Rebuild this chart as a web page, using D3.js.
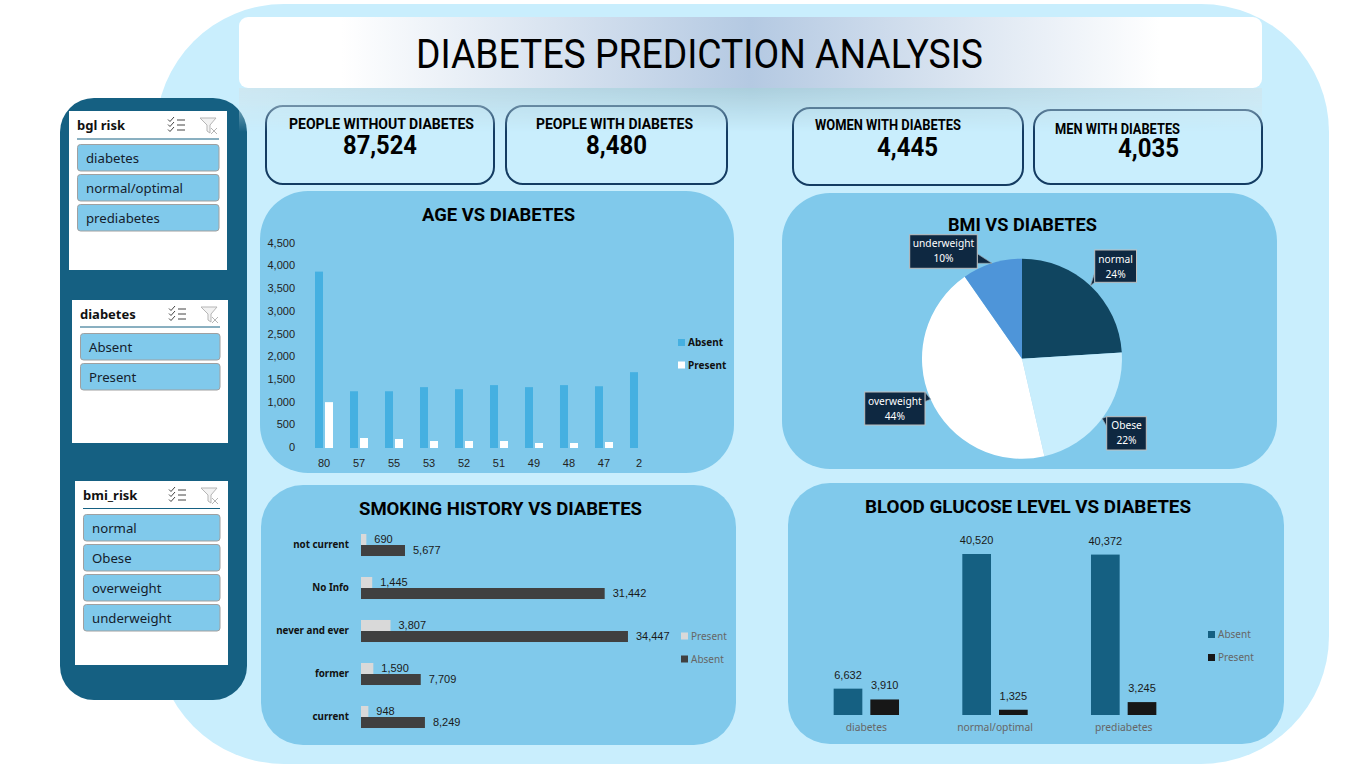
<!DOCTYPE html>
<html>
<head>
<meta charset="utf-8">
<title>Diabetes Prediction Analysis</title>
<script src="https://cdn.jsdelivr.net/npm/d3@7"></script>
<style>
	body { margin: 0; background: #ffffff; }
	svg { display: block; }
	text { font-family: "Noto Sans", sans-serif; }
	.heading { font-family: Roboto, sans-serif; font-weight: 700; fill: #000000; }
	.title { font-family: Roboto, sans-serif; fill: #000000; }
	.tick text, .num { font-family: "Liberation Sans", sans-serif; }
</style>
</head>
<body>
<div id="dash"></div>
<script>
// Chart values
const AGE_CATS = ["80", "57", "55", "53", "52", "51", "49", "48", "47", "2"];
const AGE_ABSENT = [3885, 1250, 1250, 1340, 1295, 1385, 1340, 1385, 1360, 1670];
const AGE_PRESENT = [1010, 220, 198, 154, 154, 154, 110, 110, 132, 0];
const AGE_TICKS = [0, 500, 1000, 1500, 2000, 2500, 3000, 3500, 4000, 4500];

const BMI_CATS = ["normal", "Obese", "overweight", "underweight"];
const BMI_SHARE = [24, 22.4, 43.9, 9.7];

const SMOKE_CATS = ["not current", "No Info", "never and ever", "former", "current"];
const SMOKE_PRESENT = [690, 1445, 3807, 1590, 948];
const SMOKE_ABSENT = [5677, 31442, 34447, 7709, 8249];

const BGL_CATS = ["diabetes", "normal/optimal", "prediabetes"];
const BGL_ABSENT = [6632, 40520, 40372];
const BGL_PRESENT = [3910, 1325, 3245];

const KPI_LABELS = ["PEOPLE WITHOUT DIABETES", "PEOPLE WITH DIABETES", "WOMEN WITH DIABETES", "MEN WITH DIABETES"];
const KPI_VALUES = [87524, 8480, 4445, 4035];

const SLICER_TITLES = ["bgl risk", "diabetes", "bmi_risk"];
const SLICER_ITEMS = [
	["diabetes", "normal/optimal", "prediabetes"],
	["Absent", "Present"],
	["normal", "Obese", "overweight", "underweight"]
];

// Frame constants
const FRAME_WIDTH = 1357;
const FRAME_HEIGHT = 771;
const LIGHT = "#C9EEFD";
const PANEL = "#80C9EB";
const TEAL = "#156082";
const NAVY = "#0E2841";
const COMMA = d3.format(",");

const FRAME = d3.select("#dash")
				.append("svg")
					.attr("width", FRAME_WIDTH)
					.attr("height", FRAME_HEIGHT);

const DEFS = FRAME.append("defs");

// white to blue to white gradient on the title bar
const TITLE_GRAD = DEFS.append("linearGradient").attr("id", "titleGrad");
TITLE_GRAD.append("stop").attr("offset", "0%").attr("stop-color", "#ffffff");
TITLE_GRAD.append("stop").attr("offset", "10%").attr("stop-color", "#ffffff");
TITLE_GRAD.append("stop").attr("offset", "50%").attr("stop-color", "#B4C9E2");
TITLE_GRAD.append("stop").attr("offset", "90%").attr("stop-color", "#ffffff");
TITLE_GRAD.append("stop").attr("offset", "100%").attr("stop-color", "#ffffff");

// reflection under the title bar
const REFLECT_GRAD = DEFS.append("linearGradient").attr("id", "reflectGrad");
REFLECT_GRAD.append("stop").attr("offset", "0%").attr("stop-color", "#CFE6EF");
REFLECT_GRAD.append("stop").attr("offset", "50%").attr("stop-color", "#A6C8D6");
REFLECT_GRAD.append("stop").attr("offset", "100%").attr("stop-color", "#CFE6EF");

const REFLECT_FADE = DEFS.append("linearGradient").attr("id", "reflectFade")
						.attr("x1", 0).attr("y1", 0).attr("x2", 0).attr("y2", 1);
REFLECT_FADE.append("stop").attr("offset", "0%").attr("stop-color", "#fff").attr("stop-opacity", 0.85);
REFLECT_FADE.append("stop").attr("offset", "100%").attr("stop-color", "#fff").attr("stop-opacity", 0);
DEFS.append("mask").attr("id", "reflectMask")
	.attr("maskContentUnits", "objectBoundingBox")
	.append("rect").attr("width", 1).attr("height", 1).attr("fill", "url(#reflectFade)");

function box(parent, x0, y0, x1, y1, r) {
	return parent.append("rect")
		.attr("x", x0).attr("y", y0)
		.attr("width", x1 - x0).attr("height", y1 - y0)
		.attr("rx", r).attr("ry", r);
}

// text squeezed to the width it has in the reference
function fitText(parent, str, x0, x1, yMid, size, cls) {
	return parent.append("text")
		.attr("class", cls)
		.attr("x", x0)
		.attr("y", yMid)
		.attr("dy", "0.36em")
		.attr("font-size", size)
		.attr("textLength", x1 - x0)
		.attr("lengthAdjust", "spacingAndGlyphs")
		.text(str);
}

// Backgrounds
box(FRAME, 156, 4, 1329, 764, 128).attr("fill", LIGHT);
box(FRAME, 60, 98, 247, 700, 34).attr("fill", TEAL);
box(FRAME, 239, 17, 1262, 88, 9).attr("fill", "url(#titleGrad)");

box(FRAME, 260, 191, 734, 473, 48).attr("fill", PANEL);
box(FRAME, 782, 193, 1277, 469, 48).attr("fill", PANEL);
box(FRAME, 261, 485, 736, 745, 42).attr("fill", PANEL);
box(FRAME, 788, 483, 1284, 744, 42).attr("fill", PANEL);

// KPI cards
const KPI_BOX = [[266, 106, 494, 184], [506, 106, 727, 184], [793, 108, 1023, 185], [1034, 110, 1262, 184]];
const KPI_LABEL_POS = [[289, 474, 123.5], [536, 693, 123.5], [815, 961, 124.5], [1055, 1180, 129]];
const KPI_VALUE_POS = [[343, 417, 145], [586, 647, 145], [877, 938, 146.5], [1118, 1179, 147.5]];

KPI_BOX.forEach(b => {
	box(FRAME, b[0], b[1], b[2], b[3], 17)
		.attr("fill", LIGHT)
		.attr("stroke", "#143C62")
		.attr("stroke-width", 2);
});

box(FRAME, 239, 88, 1262, 132, 0)
	.attr("fill", "url(#reflectGrad)")
	.attr("mask", "url(#reflectMask)");

fitText(FRAME, "DIABETES PREDICTION ANALYSIS", 416, 983, 53.5, 41, "title");

KPI_LABELS.forEach((d, i) => {
	const P = KPI_LABEL_POS[i];
	fitText(FRAME, d, P[0], P[1], P[2], 14.5, "heading");
	const V = KPI_VALUE_POS[i];
	fitText(FRAME, COMMA(KPI_VALUES[i]), V[0], V[1], V[2], 25, "heading");
});

// Slicers
const SLICER_BOX = [[69, 111, 227, 270], [72, 300, 228, 443], [75, 481, 228, 665]];
const SLICER_LEFT = [77, 80, 83];
const SLICER_RIGHT = [219, 220, 220];
const SLICER_HEAD = [125, 314, 495];
const SLICER_RULE = [139, 327, 508.5];
const BTN_TOP = [144.5, 333.5, 514.5];
const BTN_H = 26.5;
const BTN_STEP = 30;

function drawSlicer(i) {
	const B = SLICER_BOX[i];
	const G = FRAME.append("g");
	box(G, B[0], B[1], B[2], B[3], 0).attr("fill", "#ffffff");

	const L = SLICER_LEFT[i], R = SLICER_RIGHT[i], H = SLICER_HEAD[i];

	G.append("text")
		.attr("x", L).attr("y", H).attr("dy", "0.36em")
		.attr("font-size", 13).attr("font-weight", 700).attr("fill", "#111111")
		.text(SLICER_TITLES[i]);

	G.append("line")
		.attr("x1", L).attr("x2", R)
		.attr("y1", SLICER_RULE[i]).attr("y2", SLICER_RULE[i])
		.attr("stroke", TEAL);

	// multi select icon
	const ICON = G.append("g").attr("transform", "translate(" + (R - 51) + "," + (H - 7) + ")")
					.attr("fill", "none").attr("stroke", "#444444");
	[0, 5, 10].forEach(dy => {
		ICON.append("path").attr("d", "M0 " + (dy + 1.5) + "l2 2l4 -4.5");
		ICON.append("line").attr("x1", 9).attr("x2", 17).attr("y1", dy + 2).attr("y2", dy + 2);
	});

	// clear filter icon
	const FUNNEL = G.append("g").attr("transform", "translate(" + (R - 19) + "," + (H - 7) + ")")
					.attr("fill", "none").attr("stroke", "#B5B5B5");
	FUNNEL.append("path").attr("d", "M0 0H16L10 7V15L7 13V7Z").attr("fill", "#F2F2F2");
	FUNNEL.append("path").attr("d", "M11 10l6 6M17 10l-6 6");

	SLICER_ITEMS[i].forEach((d, k) => {
		const TOP = BTN_TOP[i] + k * BTN_STEP;
		box(G, L + 0.5, TOP, R, TOP + BTN_H, 3)
			.attr("fill", PANEL).attr("stroke", "#A0A0A0");
		G.append("text")
			.attr("x", L + 9).attr("y", TOP + BTN_H / 2).attr("dy", "0.36em")
			.attr("font-size", 13.2).attr("fill", "#14202c")
			.text(d);
	});
}
SLICER_TITLES.forEach((d, i) => drawSlicer(i));

function legend(rows, x, size, textColor, bold) {
	rows.forEach(r => {
		FRAME.append("rect").attr("x", x).attr("y", r.y - size / 2)
			.attr("width", size).attr("height", size).attr("fill", r.color);
		FRAME.append("text").attr("x", x + size + 3).attr("y", r.y).attr("dy", "0.36em")
			.attr("font-size", 10).attr("font-weight", bold ? 700 : 400)
			.attr("fill", textColor).text(r.name);
	});
}

// Age chart
fitText(FRAME, "AGE VS DIABETES", 422, 575, 214, 18.5, "heading");

const X_AGE = d3.scaleBand().domain(AGE_CATS).range([306.5, 656.5]).paddingInner(0.4857).paddingOuter(0.243);
const SUB_AGE = d3.scaleBand().domain(["Absent", "Present"]).range([0, X_AGE.bandwidth()]).paddingInner(0.2);
const Y_AGE = d3.scaleLinear().domain([0, 4500]).range([448, 243.7]);

[["Absent", AGE_ABSENT, "#45B0E1"], ["Present", AGE_PRESENT, "#FFFFFF"]].forEach(s => {
	FRAME.append("g").selectAll("rect")
		.data(s[1])
		.enter().append("rect")
			.attr("x", (d, i) => X_AGE(AGE_CATS[i]) + SUB_AGE(s[0]))
			.attr("y", d => Y_AGE(d))
			.attr("width", SUB_AGE.bandwidth())
			.attr("height", d => Y_AGE(0) - Y_AGE(d))
			.attr("fill", s[2]);
});

const AXIS_LEFT_AGE = FRAME.append("g")
	.attr("transform", "translate(298,-1)")
	.call(d3.axisLeft(Y_AGE).tickValues(AGE_TICKS).tickFormat(COMMA).tickSize(0).tickPadding(3));
const AXIS_BOTTOM_AGE = FRAME.append("g")
	.attr("transform", "translate(0,448)")
	.call(d3.axisBottom(X_AGE).tickSize(0).tickPadding(11));

legend([{name: "Absent", y: 342.5, color: "#45B0E1"}, {name: "Present", y: 365, color: "#FFFFFF"}], 678, 7, "#111111", true);

// Pie chart
fitText(FRAME, "BMI VS DIABETES", 948, 1097, 224, 18.5, "heading");

const PIE_R = 100;
const PIE_COLOR = d3.scaleOrdinal().domain(BMI_CATS).range(["#104560", LIGHT, "#FFFFFF", "#4E95D9"]);
const PIE = d3.pie().sort(null).value(d => d)(BMI_SHARE);
const ARC = d3.arc().innerRadius(0).outerRadius(PIE_R);
const PIE_G = FRAME.append("g").attr("transform", "translate(1022,358.7)");

PIE_G.selectAll("path")
	.data(PIE)
	.enter().append("path")
		.attr("d", ARC)
		.attr("fill", (d, i) => PIE_COLOR(BMI_CATS[i]));

// callouts, the pointer ends on the middle of each slice's rim
const CALL_BOX = [[1094.7, 250, 1136.5, 282.3], [1106.7, 416.7, 1146.3, 450], [864.7, 392, 925, 425], [909.7, 234.7, 977.3, 268.3]];

PIE.forEach((d, i) => {
	const B = CALL_BOX[i];
	const MID = (d.startAngle + d.endAngle) / 2;
	const TIP_X = 1022 + PIE_R * Math.sin(MID);
	const TIP_Y = 358.7 - PIE_R * Math.cos(MID);
	const BASE_X = Math.max(B[0], Math.min(B[2], TIP_X));
	const BASE_Y = Math.max(B[1], Math.min(B[3], TIP_Y));
	const SIDE = TIP_X < B[0] || TIP_X > B[2];
	const SPREAD = 6;

	let base1, base2;
	if (SIDE) {
		const Y0 = Math.max(B[1], BASE_Y - SPREAD * 1.6);
		base1 = [BASE_X, Y0];
		base2 = [BASE_X, Math.min(B[3], Y0 + SPREAD * 1.6)];
	} else {
		base1 = [BASE_X - SPREAD, BASE_Y];
		base2 = [BASE_X + SPREAD, BASE_Y];
	}

	FRAME.append("path")
		.attr("d", d3.line()([base1, [TIP_X, TIP_Y], base2]) + "Z")
		.attr("fill", NAVY)
		.attr("stroke", "#9aa5ae")
		.attr("stroke-width", 0.7);

	box(FRAME, B[0], B[1], B[2], B[3], 0)
		.attr("fill", NAVY)
		.attr("stroke", "#BFBFBF");

	const CX = (B[0] + B[2]) / 2;
	FRAME.append("text").attr("x", CX).attr("y", B[1] + 9).attr("dy", "0.36em")
		.attr("text-anchor", "middle").attr("font-size", 10.2).attr("fill", "#FFFFFF")
		.text(BMI_CATS[i]);
	FRAME.append("text").attr("x", CX).attr("y", B[1] + 24).attr("dy", "0.36em")
		.attr("text-anchor", "middle").attr("font-size", 10.2).attr("fill", "#FFFFFF")
		.text(Math.round(d.value) + "%");
});

// Smoking chart
fitText(FRAME, "SMOKING HISTORY VS DIABETES", 359, 642, 508, 18.5, "heading");

const Y_SMOKE = d3.scaleBand().domain(SMOKE_CATS).range([523.5, 738.5]).paddingInner(0.488).paddingOuter(0.244);
const SUB_SMOKE = d3.scaleBand().domain(["Present", "Absent"]).range([0, Y_SMOKE.bandwidth()]);
const X_SMOKE = d3.scaleLinear().domain([0, 40000]).range([361, 671]);

[["Present", SMOKE_PRESENT, "#D9D9D9"], ["Absent", SMOKE_ABSENT, "#404040"]].forEach(s => {
	const G = FRAME.append("g");
	G.selectAll("rect")
		.data(s[1])
		.enter().append("rect")
			.attr("x", X_SMOKE(0))
			.attr("y", (d, i) => Y_SMOKE(SMOKE_CATS[i]) + SUB_SMOKE(s[0]))
			.attr("width", d => X_SMOKE(d) - X_SMOKE(0))
			.attr("height", SUB_SMOKE.bandwidth())
			.attr("fill", s[2]);
	G.selectAll("text")
		.data(s[1])
		.enter().append("text")
			.attr("class", "num")
			.attr("x", d => X_SMOKE(d) + 8)
			.attr("y", (d, i) => Y_SMOKE(SMOKE_CATS[i]) + SUB_SMOKE(s[0]) + SUB_SMOKE.bandwidth() / 2)
			.attr("dy", "0.36em")
			.attr("font-size", 11)
			.attr("fill", "#1a1a1a")
			.text(d => COMMA(d));
});

const AXIS_SMOKE = FRAME.append("g")
	.attr("transform", "translate(361,0)")
	.call(d3.axisLeft(Y_SMOKE).tickSize(0).tickPadding(12));

legend([{name: "Present", y: 636, color: "#D9D9D9"}, {name: "Absent", y: 659, color: "#404040"}], 681, 7, "#666666", false);

// Blood glucose chart
fitText(FRAME, "BLOOD GLUCOSE LEVEL VS DIABETES", 865, 1191, 506, 18.5, "heading");

const X_BGL = d3.scaleBand().domain(BGL_CATS).range([802, 1188]).paddingInner(0.492).paddingOuter(0.246);
const SUB_BGL = d3.scaleBand().domain(["Absent", "Present"]).range([0, X_BGL.bandwidth()]).paddingInner(0.218);
const Y_BGL = d3.scaleLinear().domain([0, 40520]).range([715, 554]);

[["Absent", BGL_ABSENT, TEAL], ["Present", BGL_PRESENT, "#171717"]].forEach(s => {
	const G = FRAME.append("g");
	G.selectAll("rect")
		.data(s[1])
		.enter().append("rect")
			.attr("x", (d, i) => X_BGL(BGL_CATS[i]) + SUB_BGL(s[0]))
			.attr("y", d => Y_BGL(d))
			.attr("width", SUB_BGL.bandwidth())
			.attr("height", d => Y_BGL(0) - Y_BGL(d))
			.attr("fill", s[2]);
	G.selectAll("text")
		.data(s[1])
		.enter().append("text")
			.attr("class", "num")
			.attr("x", (d, i) => X_BGL(BGL_CATS[i]) + SUB_BGL(s[0]) + SUB_BGL.bandwidth() / 2)
			.attr("y", d => Y_BGL(d) - 14)
			.attr("dy", "0.36em")
			.attr("text-anchor", "middle")
			.attr("font-size", 11)
			.attr("fill", "#1a1a1a")
			.text(d => COMMA(d));
});

const AXIS_BGL = FRAME.append("g")
	.attr("transform", "translate(0,715)")
	.call(d3.axisBottom(X_BGL).tickSize(0).tickPadding(9));

legend([{name: "Absent", y: 634.5, color: TEAL}, {name: "Present", y: 657.5, color: "#171717"}], 1208, 7, "#666666", false);

// axis styling, no domain lines anywhere
[AXIS_LEFT_AGE, AXIS_BOTTOM_AGE, AXIS_SMOKE, AXIS_BGL].forEach(a => a.select(".domain").remove());

AXIS_LEFT_AGE.selectAll("text").attr("font-size", 11).attr("fill", "#222222");
AXIS_BOTTOM_AGE.selectAll("text").attr("font-size", 11).attr("fill", "#222222");
AXIS_SMOKE.selectAll("text").attr("font-size", 9.8).attr("font-weight", 700).attr("fill", "#111111")
	.attr("dy", "0.3em").style("font-family", "'Noto Sans', sans-serif");
AXIS_BGL.selectAll("text").attr("font-size", 10.3).attr("fill", "#666666")
	.style("font-family", "'Noto Sans', sans-serif");
</script>
</body>
</html>
